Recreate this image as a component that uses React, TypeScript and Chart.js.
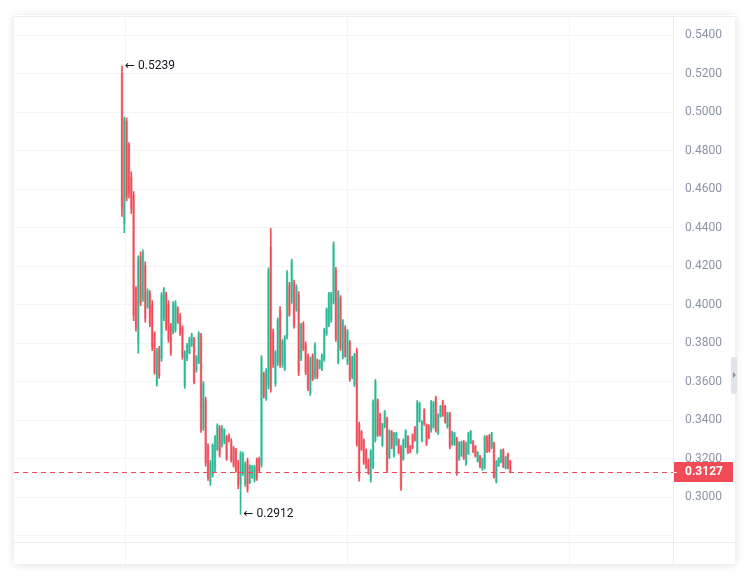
import { useEffect, useRef } from "react";
import { Chart, registerables } from "chart.js";

Chart.register(...registerables);
Chart.defaults.font.family = "Roboto, 'DejaVu Sans', sans-serif";

// candle values, oldest first
const opens = [
  0.52, 0.442, 0.495, 0.483, 0.466, 0.457, 0.408, 0.38, 0.425, 0.403,
  0.42, 0.399, 0.406, 0.4, 0.385, 0.359, 0.377, 0.372, 0.393, 0.405,
  0.4, 0.389, 0.386, 0.387, 0.398, 0.394, 0.388, 0.358, 0.372, 0.375,
  0.379, 0.382, 0.366, 0.37, 0.384, 0.336, 0.35, 0.326, 0.308, 0.312,
  0.315, 0.325, 0.336, 0.327, 0.329, 0.331, 0.332, 0.329, 0.3255, 0.3245,
  0.318, 0.307, 0.3125, 0.307, 0.319, 0.308, 0.3105, 0.309, 0.3195, 0.32,
  0.317, 0.364, 0.3515, 0.358, 0.43, 0.386, 0.359, 0.37, 0.397, 0.369,
  0.367, 0.3835, 0.41, 0.402, 0.4115, 0.3975, 0.405, 0.372, 0.39, 0.3795,
  0.3735, 0.354, 0.3735, 0.3625, 0.371, 0.3672, 0.3665, 0.3715, 0.385, 0.3895,
  0.392, 0.4015, 0.418, 0.3705, 0.4035, 0.373, 0.388, 0.37, 0.38, 0.3625,
  0.3585, 0.376, 0.338, 0.334, 0.3295, 0.3245, 0.3192, 0.309, 0.316, 0.33,
  0.35, 0.343, 0.3272, 0.3368, 0.3408, 0.3208, 0.334, 0.3218, 0.3275, 0.3298,
  0.326, 0.32, 0.3264, 0.3314, 0.3266, 0.3324, 0.3362, 0.3236, 0.3398, 0.3295,
  0.3453, 0.3375, 0.3372, 0.3346, 0.3366, 0.3515, 0.3333, 0.342, 0.3497, 0.347,
  0.3366, 0.3434, 0.3275, 0.3275, 0.3304, 0.32, 0.3218, 0.3288, 0.3175, 0.323,
  0.3283, 0.329, 0.3264, 0.3188, 0.3213, 0.3146, 0.3156, 0.3314, 0.332, 0.326,
  0.328, 0.3082, 0.3164, 0.3184, 0.3246, 0.3152, 0.3224, 0.3186,
];
const highs = [
  0.5239, 0.4975, 0.497, 0.4842, 0.469, 0.4588, 0.4094, 0.4254, 0.4275, 0.4285,
  0.4223, 0.4083, 0.4073, 0.4021, 0.386, 0.3774, 0.3784, 0.4063, 0.4089, 0.4065,
  0.4021, 0.3903, 0.4016, 0.4021, 0.399, 0.3954, 0.3891, 0.3762, 0.38, 0.3831,
  0.3852, 0.3831, 0.3736, 0.386, 0.3852, 0.3601, 0.352, 0.3278, 0.3192, 0.3278,
  0.3321, 0.3382, 0.3373, 0.3373, 0.3356, 0.3321, 0.333, 0.3304, 0.3264, 0.3254,
  0.3192, 0.3238, 0.3235, 0.3183, 0.3204, 0.3169, 0.3166, 0.3166, 0.3204, 0.3209,
  0.3736, 0.365, 0.3669, 0.4191, 0.4396, 0.3874, 0.3762, 0.3931, 0.399, 0.3819,
  0.384, 0.4177, 0.4116, 0.4237, 0.4128, 0.4104, 0.4068, 0.3903, 0.3912, 0.3808,
  0.3745, 0.3727, 0.3745, 0.3802, 0.3719, 0.3714, 0.3745, 0.3878, 0.3983, 0.4064,
  0.4064, 0.4327, 0.4194, 0.4073, 0.4047, 0.3923, 0.3891, 0.3871, 0.3814, 0.3733,
  0.3748, 0.3774, 0.339, 0.3347, 0.3304, 0.3252, 0.32, 0.3247, 0.3506, 0.3612,
  0.3511, 0.3437, 0.3385, 0.3451, 0.3416, 0.3351, 0.3347, 0.3338, 0.3338, 0.3304,
  0.3269, 0.3304, 0.3351, 0.3321, 0.3269, 0.333, 0.3368, 0.3503, 0.3494, 0.3399,
  0.346, 0.3382, 0.3378, 0.3503, 0.3498, 0.3525, 0.3434, 0.3477, 0.3503, 0.3477,
  0.3442, 0.3442, 0.3344, 0.3338, 0.3312, 0.329, 0.3292, 0.3295, 0.3287, 0.3338,
  0.3347, 0.3295, 0.3269, 0.3238, 0.3218, 0.3204, 0.3321, 0.3321, 0.3326, 0.3338,
  0.3287, 0.3191, 0.3206, 0.3249, 0.3252, 0.3212, 0.323, 0.3192,
];
const lows = [
  0.4458, 0.4374, 0.4539, 0.4555, 0.4474, 0.3917, 0.3862, 0.3748, 0.3995, 0.4017,
  0.3909, 0.3981, 0.3886, 0.3762, 0.3639, 0.3577, 0.3618, 0.3706, 0.3917, 0.3866,
  0.3805, 0.3736, 0.3849, 0.3857, 0.3903, 0.384, 0.3717, 0.3566, 0.371, 0.3745,
  0.3783, 0.3589, 0.3649, 0.3694, 0.3337, 0.3347, 0.3162, 0.3088, 0.3062, 0.3105,
  0.3131, 0.3243, 0.3209, 0.326, 0.3278, 0.3192, 0.3287, 0.3183, 0.3157, 0.3131,
  0.3045, 0.2912, 0.3114, 0.3057, 0.3027, 0.3071, 0.3098, 0.3079, 0.3088, 0.3131,
  0.3157, 0.3515, 0.3503, 0.3563, 0.3546, 0.3675, 0.3577, 0.3684, 0.3675, 0.3675,
  0.3658, 0.3823, 0.394, 0.4007, 0.3878, 0.3966, 0.3632, 0.371, 0.3762, 0.3637,
  0.3554, 0.3529, 0.3606, 0.3615, 0.3615, 0.3667, 0.3658, 0.3706, 0.384, 0.3886,
  0.3909, 0.4004, 0.381, 0.3693, 0.3762, 0.3719, 0.3727, 0.3689, 0.3603, 0.3615,
  0.3575, 0.3266, 0.3084, 0.3243, 0.3171, 0.3149, 0.3119, 0.3079, 0.3149, 0.3287,
  0.3316, 0.3317, 0.3264, 0.3361, 0.3131, 0.32, 0.3252, 0.3209, 0.3269, 0.3226,
  0.3036, 0.3192, 0.3257, 0.3226, 0.323, 0.3252, 0.3292, 0.3226, 0.339, 0.3287,
  0.3373, 0.3269, 0.3304, 0.3338, 0.3359, 0.3338, 0.3326, 0.3416, 0.342, 0.3385,
  0.3359, 0.3252, 0.3269, 0.3269, 0.3114, 0.3192, 0.3212, 0.3196, 0.3166, 0.3222,
  0.3278, 0.3232, 0.3209, 0.3183, 0.3154, 0.314, 0.3147, 0.3232, 0.3235, 0.3252,
  0.3099, 0.3074, 0.316, 0.3178, 0.3154, 0.3147, 0.3147, 0.3127,
];
const closes = [
  0.45, 0.496, 0.456, 0.458, 0.45, 0.394, 0.388, 0.423, 0.401, 0.427,
  0.393, 0.407, 0.39, 0.378, 0.365, 0.376, 0.363, 0.405, 0.408, 0.388,
  0.382, 0.375, 0.4, 0.401, 0.391, 0.385, 0.373, 0.375, 0.379, 0.382,
  0.384, 0.36, 0.373, 0.385, 0.335, 0.359, 0.318, 0.31, 0.318, 0.327,
  0.331, 0.337, 0.322, 0.336, 0.335, 0.32, 0.3295, 0.319, 0.3165, 0.314,
  0.306, 0.3225, 0.3225, 0.317, 0.304, 0.316, 0.316, 0.3155, 0.31, 0.314,
  0.372, 0.3525, 0.366, 0.4175, 0.356, 0.369, 0.375, 0.392, 0.369, 0.381,
  0.383, 0.4165, 0.395, 0.4225, 0.389, 0.4095, 0.3645, 0.389, 0.377, 0.365,
  0.3565, 0.3715, 0.3615, 0.379, 0.3625, 0.371, 0.3738, 0.3868, 0.3975, 0.4055,
  0.4055, 0.431, 0.3825, 0.406, 0.3775, 0.391, 0.3738, 0.386, 0.3615, 0.3725,
  0.3738, 0.328, 0.31, 0.325, 0.318, 0.3158, 0.3128, 0.3238, 0.3495, 0.36,
  0.3325, 0.3325, 0.3378, 0.3445, 0.314, 0.3343, 0.326, 0.333, 0.3332, 0.3232,
  0.305, 0.3296, 0.3344, 0.3234, 0.3234, 0.3258, 0.3298, 0.3492, 0.3486, 0.3392,
  0.338, 0.3277, 0.331, 0.3495, 0.349, 0.3346, 0.3426, 0.3472, 0.3426, 0.3392,
  0.3436, 0.326, 0.3338, 0.3332, 0.3124, 0.3283, 0.3286, 0.3204, 0.328, 0.333,
  0.3342, 0.3238, 0.3214, 0.3233, 0.316, 0.3199, 0.3313, 0.3239, 0.3242, 0.3332,
  0.3108, 0.3184, 0.3202, 0.3243, 0.316, 0.3207, 0.3153, 0.3127,
];

const priceTicks = [
  0.28, 0.3, 0.32, 0.34, 0.36, 0.38, 0.4, 0.42, 0.44, 0.46, 0.48, 0.5, 0.52, 0.54,
];
// vertical time grid, in candle units
const timeGrid = [1.4, 96.8, 192.3];

const UP = "#2bb895";
const DOWN = "#f04b57";
const UP_BODY = "rgba(43,184,149,0.45)";
const DOWN_BODY = "rgba(240,75,87,0.45)";
const GRID = "#f2f4f8";
const BORDER = "#e9ecf2";

const overlay = {
  id: "overlay",
  afterDraw(chart: any) {
    const { ctx, chartArea, scales, width, height } = chart;
    const xs = scales.x;
    const ys = scales.y;
    ctx.save();

    // frame lines
    ctx.strokeStyle = BORDER;
    ctx.lineWidth = 1;
    ctx.beginPath();
    ctx.moveTo(0, chartArea.top + 0.5);
    ctx.lineTo(width, chartArea.top + 0.5);
    ctx.moveTo(0, chartArea.bottom + 0.5);
    ctx.lineTo(width, chartArea.bottom + 0.5);
    ctx.moveTo(chartArea.right + 0.5, 0);
    ctx.lineTo(chartArea.right + 0.5, height);
    ctx.stroke();

    // high / low markers
    const hi = Math.max(...highs);
    const lo = Math.min(...lows);
    const hiIdx = highs.indexOf(hi);
    const loIdx = lows.indexOf(lo);
    ctx.font = "12px Roboto, 'DejaVu Sans', sans-serif";
    ctx.fillStyle = "#131722";
    ctx.textBaseline = "middle";
    ctx.textAlign = "left";
    ctx.fillText("← " + hi.toFixed(4), xs.getPixelForValue(hiIdx) + 3, ys.getPixelForValue(hi));
    ctx.fillText("← " + lo.toFixed(4), xs.getPixelForValue(loIdx) + 3, ys.getPixelForValue(lo));

    // last price line and label
    const n = closes.length - 1;
    const last = closes[n];
    const col = last >= opens[n] ? UP : DOWN;
    const py = Math.round(ys.getPixelForValue(last));
    ctx.fillStyle = col;
    for (let x = chartArea.left; x < chartArea.right; x += 9) {
      ctx.fillRect(x, py - 1, Math.min(5, chartArea.right - x), 1);
    }

    ctx.fillRect(chartArea.right + 1, py - 11, 59, 20);
    ctx.fillStyle = "#ffffff";
    ctx.fillRect(chartArea.right + 1, py - 1, 3, 1);
    ctx.font = "bold 12px Roboto, 'DejaVu Sans', sans-serif";
    ctx.fillText(last.toFixed(4), chartArea.right + 12, py - 1);
    ctx.restore();
  },
};

function CandleChart() {
  const canvasRef = useRef<HTMLCanvasElement | null>(null);

  useEffect(() => {
    if (!canvasRef.current) return;
    const up = closes.map((c, i) => c >= opens[i]);

    const chart = new Chart(canvasRef.current, {
      type: "bar",
      data: {
        datasets: [
          {
            label: "wick",
            data: highs.map((h, i) => ({ x: i, y: [lows[i], h] })) as any,
            backgroundColor: up.map((u) => (u ? UP : DOWN)),
            barThickness: 1,
            grouped: false,
            order: 1,
          },
          {
            label: "body",
            data: opens.map((o, i) => ({ x: i, y: [o, closes[i]] })) as any,
            backgroundColor: up.map((u) => (u ? UP_BODY : DOWN_BODY)),
            barThickness: 2,
            grouped: false,
            order: 2,
          },
        ],
      },
      options: {
        animation: false,
        responsive: false,
        events: [],
        layout: { padding: { top: 1, left: 0, right: 0, bottom: 0 } },
        plugins: { legend: { display: false }, tooltip: { enabled: false } },
        scales: {
          x: {
            type: "linear",
            min: -46.45,
            max: 237,
            offset: false,
            afterBuildTicks: (s: any) => {
              s.ticks = timeGrid.map((v) => ({ value: v }));
            },
            afterFit: (s: any) => {
              s.height = 22;
              s.paddingLeft = 0;
              s.paddingRight = 0;
            },
            ticks: { display: false },
            grid: { color: GRID, drawTicks: true, tickLength: 22, offset: false },
            border: { display: false },
          },
          y: {
            type: "linear",
            position: "right",
            min: 0.2768,
            max: 0.5499,
            afterBuildTicks: (s: any) => {
              s.ticks = priceTicks.map((v) => ({ value: v }));
            },
            afterFit: (s: any) => {
              s.width = 62;
              s.paddingTop = 0;
              s.paddingBottom = 0;
            },
            ticks: {
              padding: 12,
              color: "#8a93a5",
              font: { size: 12 },
              callback: (v: any) => (Number(v) >= 0.29 ? Number(v).toFixed(4) : ""),
            },
            grid: { color: GRID, drawTicks: false },
            border: { display: false },
          },
        },
      },
      plugins: [overlay],
    });

    return () => chart.destroy();
  }, []);

  return <canvas ref={canvasRef} width={721} height={549} style={{ width: 721, height: 549, display: "block" }} />;
}

export default function App() {
  return (
    <div style={{ position: "absolute", left: 0, top: 0, width: 751, height: 578, background: "#ffffff" }}>
      <div
        style={{
          position: "absolute",
          left: 14,
          top: 15,
          width: 721,
          height: 549,
          background: "#ffffff",
          boxShadow: "0 1px 8px rgba(0,0,0,0.13)",
        }}
      >
        <CandleChart />
      </div>
      <div
        style={{
          position: "absolute",
          left: 731,
          top: 357,
          width: 6,
          height: 37,
          background: "#e0e3eb",
          borderRadius: 2,
        }}
      >
        <div
          style={{
            position: "absolute",
            left: 2,
            top: 15,
            width: 0,
            height: 0,
            borderTop: "3px solid transparent",
            borderBottom: "3px solid transparent",
            borderLeft: "3px solid #8c919c",
          }}
        />
      </div>
    </div>
  );
}
